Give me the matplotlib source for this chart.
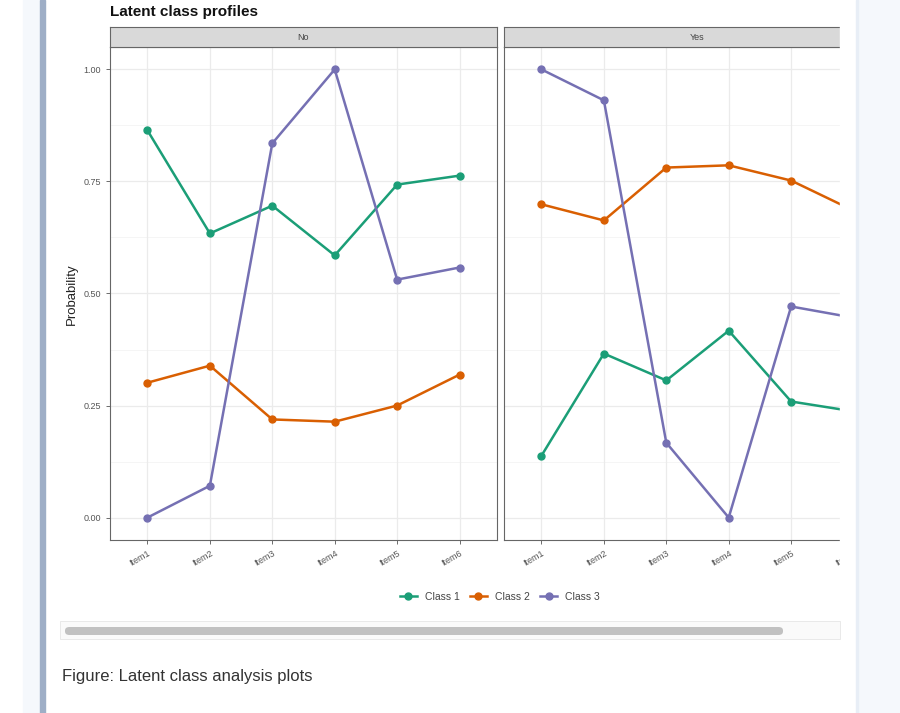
import matplotlib
matplotlib.use("Agg")
import matplotlib.pyplot as plt
from matplotlib.patches import Rectangle, FancyBboxPatch
from matplotlib.lines import Line2D

plt.rcParams["font.family"] = ["Liberation Sans", "DejaVu Sans"]

items = ["Item1", "Item2", "Item3", "Item4", "Item5", "Item6"]
classes = ["Class 1", "Class 2", "Class 3"]
colors = ["#1B9E77", "#D95F02", "#7570B3"]
y_breaks = [0.0, 0.25, 0.5, 0.75, 1.0]
y_labels = ["0.00", "0.25", "0.50", "0.75", "1.00"]

# probabilities per facet, per class
no_class1 = [0.864, 0.634, 0.696, 0.585, 0.743, 0.763]
no_class2 = [0.301, 0.339, 0.219, 0.214, 0.250, 0.319]
no_class3 = [0.000, 0.071, 0.835, 1.000, 0.531, 0.558]

yes_class1 = [0.138, 0.366, 0.306, 0.417, 0.259, 0.237]
yes_class2 = [0.699, 0.663, 0.781, 0.786, 0.752, 0.685]
yes_class3 = [1.000, 0.931, 0.167, 0.000, 0.471, 0.446]

W, H = 900, 713


def rect(x0, y0, x1, y1):
    # pixel box (top-left origin) -> figure fraction
    return [x0 / W, 1 - y1 / H, (x1 - x0) / W, (y1 - y0) / H]


fig = plt.figure(figsize=(9, 7.13), dpi=100)
fig.patch.set_facecolor("white")

panels = [
    ("No", 110, [no_class1, no_class2, no_class3]),
    ("Yes", 504, [yes_class1, yes_class2, yes_class3]),
]
xs = list(range(1, len(items) + 1))

for title, left, series in panels:
    ax = fig.add_axes(rect(left, 47, left + 387, 540))
    ax.set_xlim(0.4, 6.6)
    ax.set_ylim(-0.05, 1.05)
    for y in [0.125, 0.375, 0.625, 0.875]:
        ax.axhline(y, color="#f2f2f2", lw=0.5, zorder=0)
    for y in y_breaks:
        ax.axhline(y, color="#ebebeb", lw=0.9, zorder=0)
    for x in xs:
        ax.axvline(x, color="#ebebeb", lw=0.9, zorder=0)
    for vals, col, name in zip(series, colors, classes):
        ax.plot(xs, vals, color=col, lw=1.8, marker="o", ms=5,
                label=name, zorder=3)
    ax.set_xticks(xs)
    ax.set_xticklabels(items, rotation=30, ha="right", rotation_mode="anchor")
    ax.set_yticks(y_breaks)
    ax.tick_params(labelsize=6.5, labelcolor="#555555", color="#555555",
                   length=3, width=0.6)
    if title == "No":
        ax.set_yticklabels(y_labels)
    else:
        ax.set_yticklabels([])
        ax.tick_params(axis="y", length=0)
    for s in ax.spines.values():
        s.set_color("#666666")
        s.set_linewidth(0.8)

    strip = fig.add_axes(rect(left, 27, left + 387, 47))
    strip.set_facecolor("#d9d9d9")
    strip.set_xticks([])
    strip.set_yticks([])
    for s in strip.spines.values():
        s.set_color("#666666")
        s.set_linewidth(0.8)
    strip.text(0.5, 0.5, title, ha="center", va="center", fontsize=6.5,
               color="#444444", transform=strip.transAxes)

fig.text(110 / W, 1 - 12 / H, "Latent class profiles", fontsize=11,
         fontweight="bold", ha="left", va="center", color="#111111")
fig.text(72 / W, 1 - 294 / H, "Probability", rotation=90, fontsize=9.5,
         ha="center", va="center", color="#222222")

legend_handles = [
    Line2D([], [], color=c, lw=1.8, marker="o", ms=5) for c in colors
]
fig.legend(legend_handles, classes, loc="center", ncol=3, frameon=False,
           bbox_to_anchor=(500 / W, 1 - 597 / H), fontsize=7.5,
           handlelength=1.6, columnspacing=1.0, handletextpad=0.8,
           labelcolor="#444444")

# page chrome: clip of the wide plot, side bars, scrollbar
cover = [
    (840, 0, 857, H, "white"),
    (857, 0, 900, H, "#f5f8fc"),
    (856, 0, 858, H, "#e8eef6"),
    (23, 0, 40, H, "#f5f8fc"),
    (40, 0, 45, H, "#9eaec6"),
]
for x0, y0, x1, y1, col in cover:
    r = rect(x0, y0, x1, y1)
    fig.patches.append(Rectangle((r[0], r[1]), r[2], r[3], color=col,
                                 transform=fig.transFigure, zorder=10))

tr = rect(60, 621, 840, 639)
fig.patches.append(Rectangle((tr[0], tr[1]), tr[2], tr[3], facecolor="#fafafa",
                             edgecolor="#e6e6e6", lw=0.6,
                             transform=fig.transFigure, zorder=11))
th = rect(65, 627, 783, 635)
fig.patches.append(FancyBboxPatch((th[0], th[1]), th[2], th[3],
                                  boxstyle="round,pad=0,rounding_size=0.005",
                                  facecolor="#c1c1c1", edgecolor="none",
                                  transform=fig.transFigure, zorder=12))

fig.text(62 / W, 1 - 676 / H, "Figure: Latent class analysis plots",
         fontsize=12, ha="left", va="center", color="#333333")

fig.savefig("out.png", dpi=100)
